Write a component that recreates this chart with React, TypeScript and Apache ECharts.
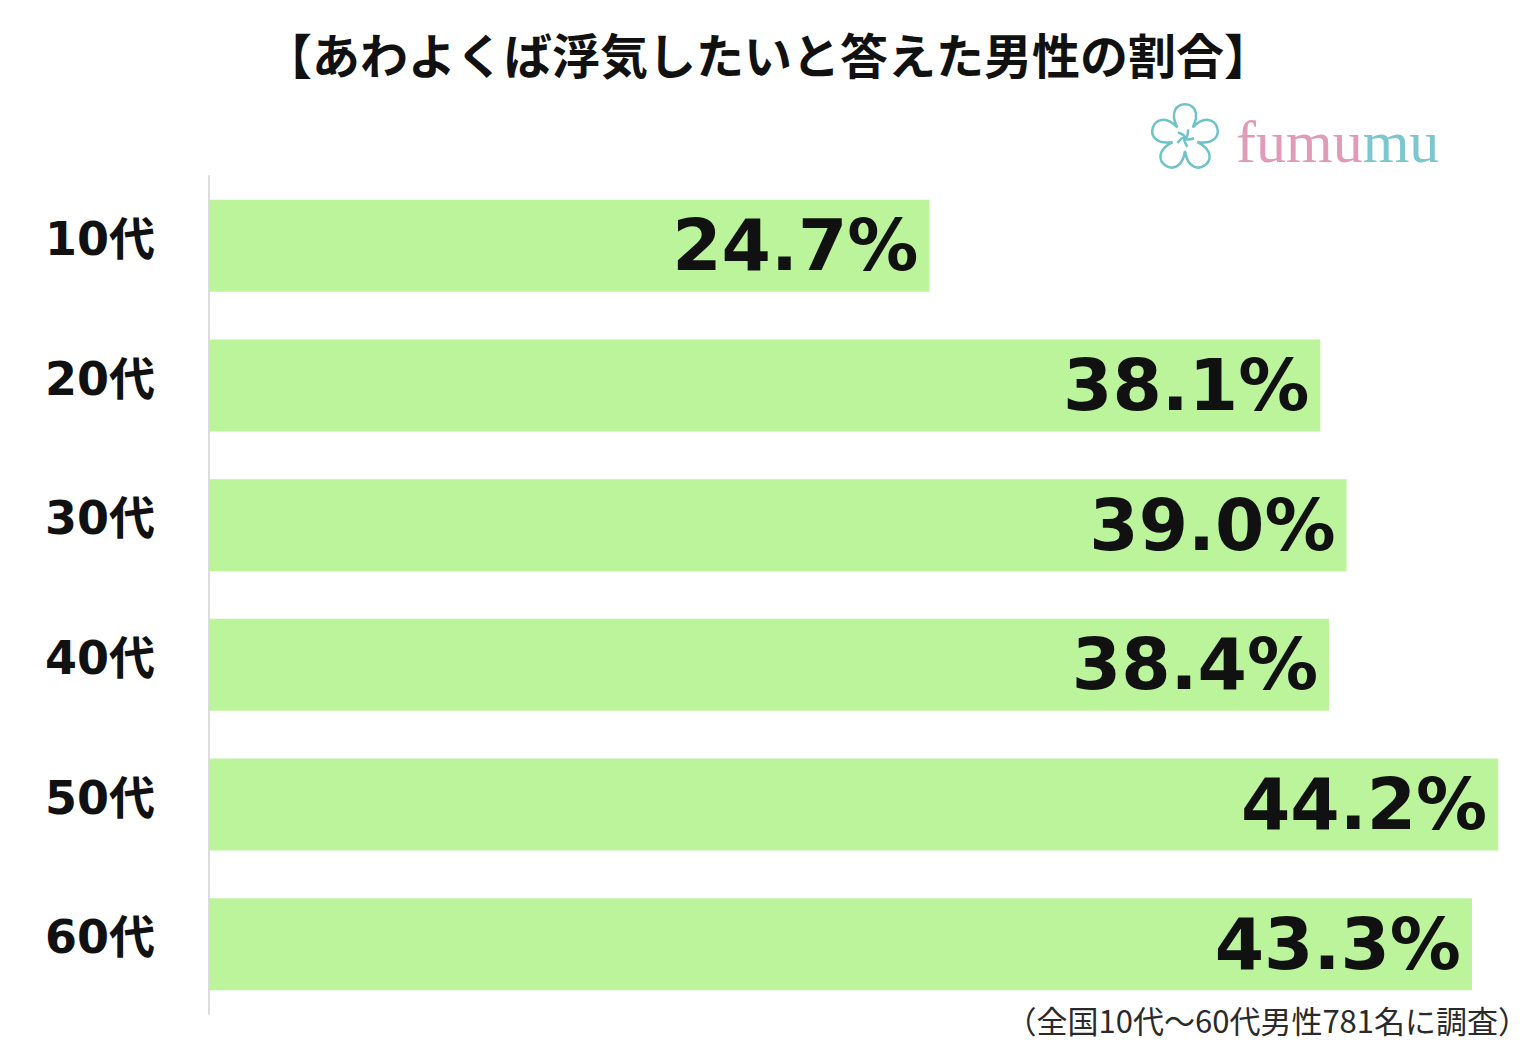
import React, { useEffect, useRef } from "react";
import * as echarts from "echarts";

const TITLE = "【あわよくば浮気したいと答えた男性の割合】";
const NOTE = "（全国10代～60代男性781名に調査）";
const categories = ["10代", "20代", "30代", "40代", "50代", "60代"];
const values = [24.7, 38.1, 39.0, 38.4, 44.2, 43.3];
const axisMax = 45;

function flowerPath(): string {
  const rin = 13, rout = 38;
  const pt = (r: number, a: number) => [r * Math.cos(a), r * Math.sin(a)];
  let d = "";
  for (let i = 0; i < 5; i++) {
    const th = (-90 + i * 72) * Math.PI / 180;
    const a0 = th - 36 * Math.PI / 180;
    const a1 = th + 36 * Math.PI / 180;
    const p0 = pt(rin, a0);
    const c1 = pt(rout + 10, th - 30 * Math.PI / 180);
    const c2 = pt(rout + 10, th + 30 * Math.PI / 180);
    const p1 = pt(rin, a1);
    if (i === 0) d += `M${p0[0].toFixed(2)} ${p0[1].toFixed(2)} `;
    d += `C${c1[0].toFixed(2)} ${c1[1].toFixed(2)} ${c2[0].toFixed(2)} ${c2[1].toFixed(2)} ${p1[0].toFixed(2)} ${p1[1].toFixed(2)} `;
  }
  d += "Z ";
  for (let i = 0; i < 5; i++) {
    const th = (-90 + i * 72 + 20) * Math.PI / 180;
    const p = pt(9, th);
    const q = pt(3, th + 1.2);
    d += `M0 0 Q${q[0].toFixed(2)} ${q[1].toFixed(2)} ${p[0].toFixed(2)} ${p[1].toFixed(2)} `;
  }
  return d;
}

echarts.graphic.registerShape("fumumuFlower", echarts.graphic.extendPath(flowerPath(), {}) as any);

export default function App() {
  const ref = useRef<HTMLDivElement>(null);
  useEffect(() => {
    if (!ref.current) return;
    const chart = echarts.init(ref.current, null, { renderer: "svg" });
    const plotLeft = 209;
    const plotWidth = 1312.6;
    chart.setOption({
      animation: false,
      backgroundColor: "#ffffff",
      title: {
        text: TITLE,
        left: "center",
        top: 24,
        textStyle: {
          fontFamily: "Noto Sans CJK JP",
          fontWeight: "bold",
          fontSize: 48,
          color: "#111111",
        },
      },
      grid: {
        left: plotLeft,
        width: plotWidth,
        top: 176,
        height: 838,
        containLabel: false,
      },
      xAxis: {
        type: "value",
        min: 0,
        max: axisMax,
        show: false,
        splitLine: { show: false },
      },
      yAxis: {
        type: "category",
        data: categories,
        inverse: true,
        axisLine: { show: true, lineStyle: { color: "#dcdcdc", width: 2 } },
        axisTick: { show: false },
        axisLabel: {
          margin: 54,
          formatter: "{c|{value}}",
          rich: {
            c: {
              fontFamily: "DejaVu Sans, Noto Sans CJK JP",
              fontWeight: "bold",
              fontSize: 46,
              color: "#111111",
              padding: [0, 0, 14, 0],
            },
          },
        },
      },
      series: [
        {
          type: "bar",
          data: values,
          barWidth: 92,
          itemStyle: { color: "#bcf49b" },
          label: {
            show: true,
            position: "insideRight",
            distance: 11,
            formatter: (p: any) => p.value.toFixed(1) + "%",
            fontFamily: "DejaVu Sans",
            fontWeight: "bold",
            fontSize: 71,
            color: "#111111",
          },
        },
      ],
      graphic: [
        {
          type: "fumumuFlower",
          x: 1185,
          y: 138,
          style: { fill: "none", stroke: "#6fc3c8", lineWidth: 2.5 },
        },
        {
          type: "text",
          x: 1236,
          y: 142,
          style: {
            text: "{p|fumu}{t|mu}",
            verticalAlign: "middle",
            rich: {
              p: { fontFamily: "Liberation Serif", fontSize: 60, fill: "#e29ab9" },
              t: { fontFamily: "Liberation Serif", fontSize: 60, fill: "#7cc7cd" },
            },
          },
        },
        {
          type: "text",
          right: 7,
          top: 1004,
          style: {
            text: NOTE,
            fontFamily: "Noto Sans CJK JP",
            fontSize: 31,
            fill: "#2a2a2a",
          },
        },
      ],
    });
    return () => chart.dispose();
  }, []);
  return (
    <div
      ref={ref}
      style={{ position: "absolute", left: 0, top: 0, width: 1536, height: 1052 }}
    />
  );
}
